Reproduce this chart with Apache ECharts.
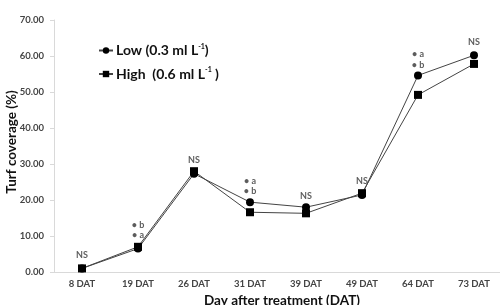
<!DOCTYPE html>
<html>
<head>
<meta charset="utf-8">
<script src="https://cdn.jsdelivr.net/npm/echarts@6/dist/echarts.min.js"></script>
<style>
  html, body { margin: 0; padding: 0; background: #fff; }
  #turfChart { width: 500px; height: 305px; }
</style>
</head>
<body>
<div id="turfChart"></div>
<script>
// 数据
var days = ['8 DAT', '19 DAT', '26 DAT', '31 DAT', '39 DAT', '49 DAT', '64 DAT', '73 DAT']
var lowValues = [1.0, 6.5, 27.3, 19.4, 18.0, 21.4, 54.6, 60.2]
var highValues = [1.0, 7.0, 28.0, 16.6, 16.3, 21.9, 49.2, 57.8]
// significance marks above the points
var noteDays = ['8 DAT', '26 DAT', '39 DAT', '49 DAT', '73 DAT', '19 DAT', '19 DAT', '31 DAT', '31 DAT', '64 DAT', '64 DAT']
var noteLevels = [4.7, 31.0, 21.0, 25.3, 64.0, 13.0, 10.3, 25.3, 22.5, 60.5, 57.5]
var noteTexts = ['NS', 'NS', 'NS', 'NS', 'NS', '• b', '• a', '• a', '• b', '• a', '• b']
var yTicks = [0, 10, 20, 30, 40, 50, 60, 70]

var font = 'Lato, "Open Sans", sans-serif'
var chart = echarts.init(document.getElementById('turfChart'))

var noteData = noteDays.map(function(d, i) { return [d, noteLevels[i], noteTexts[i]] })

chart.setOption({
  backgroundColor: '#fff',
  animation: false,
  textStyle: { fontFamily: font },
  grid: { left: 54, right: -2, top: 20, bottom: 33, outerBoundsMode: 'none', containLabel: false },
  legend: {
    left: 93,
    top: 38,
    orient: 'vertical',
    itemGap: 9,
    itemWidth: 14,
    itemHeight: 8,
    data: ['Low', 'High'],
    formatter: function(name) {
      if (name === 'Low') return '{t|Low (0.3 ml L}{s|-1}{t|)}'
      return '{t|High  (0.6 ml L}{s|-1}{t| )}'
    },
    textStyle: {
      padding: [0, 0, 0, -2],
      rich: {
        t: { fontFamily: font, fontSize: 14, fontWeight: 'bold', color: '#111' },
        s: { fontFamily: font, fontSize: 7, fontWeight: 'bold', color: '#111', verticalAlign: 'top', padding: [0, 0, 8, 0] }
      }
    }
  },
  xAxis: {
    type: 'category',
    data: days,
    boundaryGap: true,
    name: 'Day after treatment (DAT)',
    nameLocation: 'middle',
    nameGap: 22,
    nameMoveOverlap: false,
    nameTextStyle: { fontFamily: font, fontSize: 13.5, fontWeight: 'bold', color: '#111', padding: [0, 0, 0, 8] },
    axisLine: { lineStyle: { color: '#d9d9d9' } },
    axisTick: { show: false },
    axisLabel: { fontFamily: font, fontSize: 9.5, fontWeight: 'bold', color: '#444', margin: 7 }
  },
  yAxis: {
    type: 'value',
    min: yTicks[0],
    max: yTicks[yTicks.length - 1],
    interval: 10,
    name: 'Turf coverage (%)',
    nameLocation: 'middle',
    nameGap: 35,
    nameMoveOverlap: false,
    nameTextStyle: { fontFamily: font, fontSize: 13.5, fontWeight: 'bold', color: '#111', padding: [0, 0, 0, 8] },
    axisLine: { show: true, lineStyle: { color: '#d9d9d9' } },
    axisTick: { show: true, length: 4, lineStyle: { color: '#d9d9d9' } },
    splitLine: { show: false },
    axisLabel: {
      fontFamily: font, fontSize: 9.5, fontWeight: 'bold', color: '#444', margin: 10,
      formatter: function(v) { return v.toFixed(2) }
    }
  },
  series: [
    {
      name: 'Low',
      type: 'line',
      data: lowValues,
      symbol: 'circle',
      symbolSize: 8,
      itemStyle: { color: '#000' },
      lineStyle: { color: '#444', width: 1 },
      z: 3
    },
    {
      name: 'High',
      type: 'line',
      data: highValues,
      symbol: 'rect',
      symbolSize: 8,
      itemStyle: { color: '#000' },
      lineStyle: { color: '#444', width: 1 },
      z: 3
    },
    {
      name: 'notes',
      type: 'scatter',
      data: noteData,
      symbolSize: 0,
      silent: true,
      label: {
        show: true,
        position: 'inside',
        formatter: function(p) { return p.data[2] },
        fontFamily: font,
        fontSize: 9,
        fontWeight: 'bold',
        color: '#333'
      }
    }
  ]
})
</script>
</body>
</html>
